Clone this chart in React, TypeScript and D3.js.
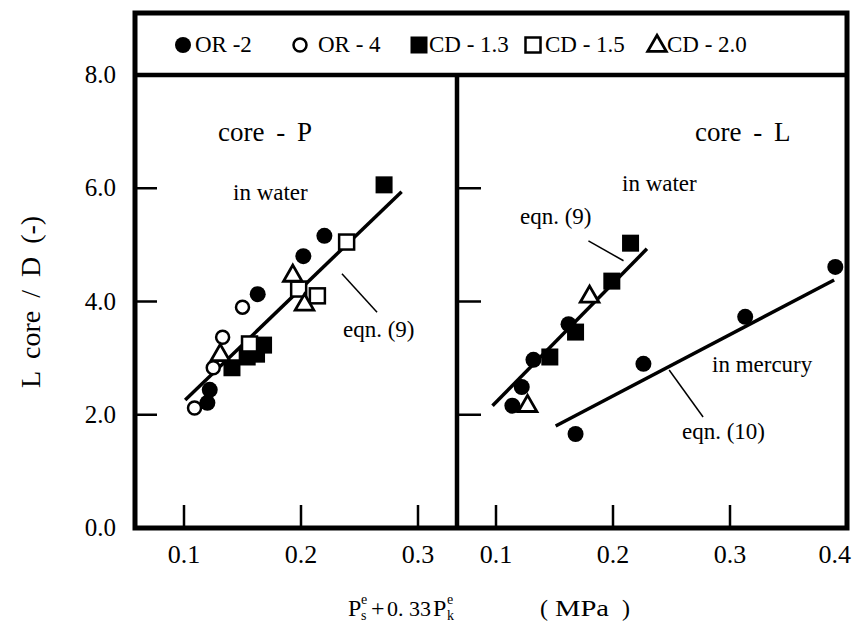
import React from "react";
import * as d3 from "d3";

// series: [x (MPa), L/D]
const orTwoP = [[0.220, 5.16], [0.202, 4.80], [0.163, 4.13], [0.122, 2.44], [0.120, 2.21]];
const orFourP = [[0.150, 3.90], [0.133, 3.37], [0.125, 2.83], [0.109, 2.12]];
const cd13P = [[0.271, 6.06], [0.168, 3.23], [0.162, 3.07], [0.154, 3.02], [0.141, 2.83]];
const cd15P = [[0.156, 3.25], [0.198, 4.22], [0.214, 4.10], [0.239, 5.05]];
const cd20P = [[0.193, 4.47], [0.203, 3.96], [0.131, 3.07]];
const fitP = [[0.101, 2.26], [0.286, 5.94]];

const orTwoL = [[0.162, 3.60], [0.132, 2.97], [0.122, 2.49], [0.114, 2.16]];
const orTwoMercury = [[0.168, 1.66], [0.226, 2.90], [0.313, 3.73], [0.390, 4.61]];
const cd13L = [[0.215, 5.03], [0.199, 4.36], [0.168, 3.46], [0.146, 3.02]];
const cd20L = [[0.180, 4.10], [0.127, 2.17]];
const fitWater = [[0.097, 2.16], [0.229, 4.93]];
const fitMercury = [[0.151, 1.80], [0.389, 4.38]];

const yTicks = [0, 2, 4, 6, 8];
const xTicksP = [0.1, 0.2, 0.3];
const xTicksL = [0.1, 0.2, 0.3, 0.4];

const legendItems = [
  { shape: "dot", label: "OR -2" },
  { shape: "ring", label: "OR - 4" },
  { shape: "block", label: "CD - 1.3" },
  { shape: "box", label: "CD - 1.5" },
  { shape: "tri", label: "CD - 2.0" },
];

const FONT = "Liberation Serif, Times New Roman, Times, serif";

const Marker = ({ shape, cx, cy }) => {
  if (shape === "dot") return <circle cx={cx} cy={cy} r={8} fill="#000" />;
  if (shape === "ring")
    return <circle cx={cx} cy={cy} r={6.5} fill="#fff" stroke="#000" strokeWidth={2.5} />;
  if (shape === "block") return <rect x={cx - 8.5} y={cy - 8.5} width={17} height={17} fill="#000" />;
  if (shape === "box")
    return <rect x={cx - 7.5} y={cy - 7.5} width={15} height={15} fill="#fff" stroke="#000" strokeWidth={2.5} />;
  const tri = d3.symbol(d3.symbolTriangle, 150)();
  return (
    <path d={tri} transform={`translate(${cx},${cy + 1})`} fill="#fff" stroke="#000" strokeWidth={2.8} />
  );
};

export default function App() {
  const left = 135, right = 847, top = 13, bottom = 528, split = 457;
  const y = d3.scaleLinear().domain([0, 8]).range([bottom, 75]);
  const xP = d3.scaleLinear().domain([0.1, 0.3]).range([184, 418]);
  const xL = d3.scaleLinear().domain([0.1, 0.4]).range([496, 847]);
  const line = (xs) => d3.line().x((d) => xs(d[0])).y((d) => y(d[1]));

  const series = (data, xs, shape) =>
    data.map((d, i) => <Marker key={shape + i} shape={shape} cx={xs(d[0])} cy={y(d[1])} />);

  const legendX = [183, 300, 419, 533, 657];
  const legendTextX = [195, 318, 429, 545, 667];

  return (
    <svg width={855} height={623} style={{ display: "block", position: "absolute", left: 0, top: 0, fontFamily: FONT }}>
      <rect width={855} height={623} fill="#fff" />

      {/* legend */}
      {legendItems.map((it, i) => (
        <g key={it.label}>
          <Marker shape={it.shape} cx={legendX[i]} cy={45} />
          <text x={legendTextX[i]} y={52} fontSize={23}>{it.label}</text>
        </g>
      ))}

      {/* y ticks */}
      {yTicks.map((t) => (
        <g key={"y" + t}>
          <text x={116} y={y(t) + 8} fontSize={25} textAnchor="end">{t.toFixed(1)}</text>
          {t > 0 && t < 8 && (
            <>
              <line x1={left} x2={left + 22} y1={y(t)} y2={y(t)} stroke="#000" strokeWidth={2.5} />
              <line x1={split} x2={split + 24} y1={y(t)} y2={y(t)} stroke="#000" strokeWidth={2.5} />
            </>
          )}
        </g>
      ))}

      {/* x ticks */}
      {xTicksP.map((t) => (
        <g key={"p" + t}>
          <line x1={xP(t)} x2={xP(t)} y1={bottom} y2={bottom - 23} stroke="#000" strokeWidth={2.5} />
          <text x={xP(t)} y={563} fontSize={26} textAnchor="middle">{t.toFixed(1)}</text>
        </g>
      ))}
      {xTicksL.map((t, i) => (
        <g key={"l" + t}>
          <line x1={xL(t)} x2={xL(t)} y1={bottom} y2={bottom - 23} stroke="#000" strokeWidth={2.5} />
          <text x={i === xTicksL.length - 1 ? xL(t) + 4 : xL(t)} y={563} fontSize={26}
            textAnchor={i === xTicksL.length - 1 ? "end" : "middle"}>{t.toFixed(1)}</text>
        </g>
      ))}

      {/* fit lines and leaders */}
      <path d={line(xP)(fitP)} stroke="#000" strokeWidth={3.5} fill="none" />
      <path d={line(xL)(fitWater)} stroke="#000" strokeWidth={3.5} fill="none" />
      <path d={line(xL)(fitMercury)} stroke="#000" strokeWidth={3.5} fill="none" />
      <path d={line(xP)([[0.235, 4.49], [0.265, 3.81]])} stroke="#000" strokeWidth={1.5} />
      <path d={line(xL)([[0.179, 5.07], [0.209, 4.72]])} stroke="#000" strokeWidth={1.5} />
      <path d={line(xL)([[0.248, 2.79], [0.277, 1.96]])} stroke="#000" strokeWidth={1.5} />

      {/* markers */}
      {series(cd13P, xP, "block")}
      {series(orTwoP, xP, "dot")}
      {series(orFourP, xP, "ring")}
      {series(cd15P, xP, "box")}
      {series(cd20P, xP, "tri")}
      {series(cd13L, xL, "block")}
      {series(orTwoL, xL, "dot")}
      {series(orTwoMercury, xL, "dot")}
      {series(cd20L, xL, "tri")}

      {/* panel text */}
      <text x={218} y={141} fontSize={27} wordSpacing={5}>core - P</text>
      <text x={695} y={141} fontSize={27} wordSpacing={5}>core - L</text>
      <text x={233} y={200} fontSize={23}>in water</text>
      <text x={343} y={337} fontSize={23}>eqn. (9)</text>
      <text x={622} y={191} fontSize={23}>in water</text>
      <text x={520} y={224} fontSize={23}>eqn. (9)</text>
      <text x={712} y={372} fontSize={23}>in mercury</text>
      <text x={682} y={439} fontSize={23}>eqn. (10)</text>

      {/* frame */}
      <rect x={left} y={top} width={right - left} height={bottom - top} fill="none" stroke="#000" strokeWidth={5} />
      <line x1={left} x2={right} y1={y(8)} y2={y(8)} stroke="#000" strokeWidth={4.5} />
      <line x1={split} x2={split} y1={y(8)} y2={bottom} stroke="#000" strokeWidth={4.5} />

      {/* axis titles */}
      <text transform="translate(40,302) rotate(-90)" fontSize={28} textAnchor="middle"
        wordSpacing={6}>L core / D (-)</text>
      <g fontSize={24}>
        <text x={348} y={616}>P</text>
        <text x={361} y={604} fontSize={14}>e</text>
        <text x={361} y={620} fontSize={14}>s</text>
        <text x={371} y={616}>+</text>
        <text x={387} y={616} fontSize={22}>0. 33</text>
        <text x={433} y={616}>P</text>
        <text x={447} y={604} fontSize={14}>e</text>
        <text x={447} y={620} fontSize={14}>k</text>
        <text x={540} y={616}>(</text>
        <text x={555} y={616} textLength={54} lengthAdjust="spacingAndGlyphs">MPa</text>
        <text x={622} y={616}>)</text>
      </g>
    </svg>
  );
}
